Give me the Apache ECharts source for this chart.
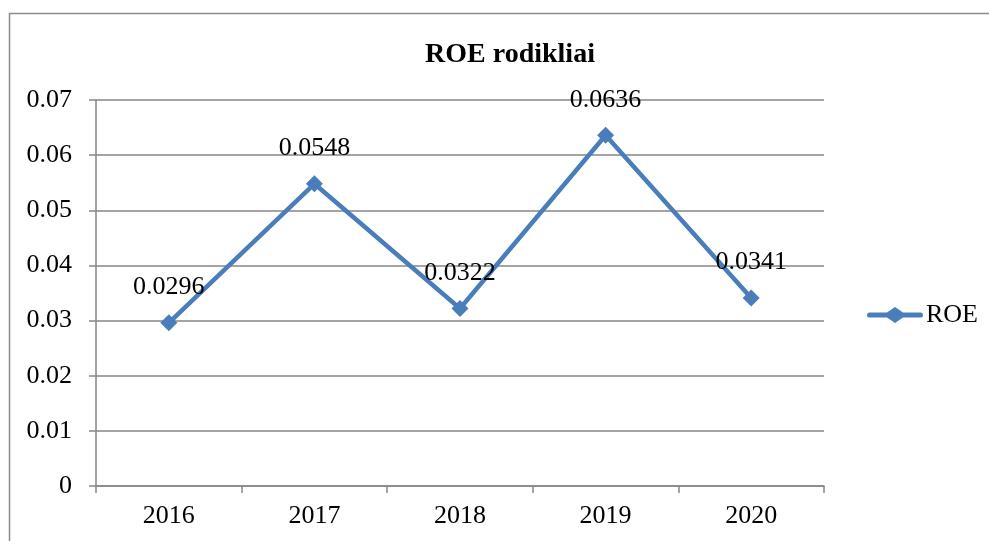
<!DOCTYPE html>
<html>
<head>
<meta charset="utf-8">
<script src="https://cdn.jsdelivr.net/npm/echarts@6/dist/echarts.min.js"></script>
<style>
  html, body { margin: 0; padding: 0; background: #fff; }
  #chart { width: 989px; height: 541px; }
</style>
</head>
<body>
<div id="chart"></div>
<script>
const years = ['2016', '2017', '2018', '2019', '2020']
const roe = [0.0296, 0.0548, 0.0322, 0.0636, 0.0341]
const yTicks = ['0', '0.01', '0.02', '0.03', '0.04', '0.05', '0.06', '0.07']

const serif = '"Liberation Serif", "DejaVu Serif", serif'
const gridColor = '#868686'
const blue = '#4A7EBB'

const chart = echarts.init(document.getElementById('chart'))
chart.setOption({
  animation: false,
  textStyle: { fontFamily: serif },
  graphic: [
    {
      type: 'rect',
      shape: { x: 9.5, y: 13.5, width: 1000, height: 600 },
      style: { fill: 'none', stroke: '#8c8c8c', lineWidth: 1.5 },
      silent: true,
    },
  ],
  title: {
    text: 'ROE rodikliai',
    left: 505,
    top: 36,
    textAlign: 'center',
    textStyle: { fontFamily: serif, fontWeight: 'bold', fontSize: 28, color: '#000' },
  },
  legend: {
    left: 862,
    top: 297,
    itemWidth: 56,
    itemHeight: 16,
    itemGap: 4,
    data: [{
      name: 'ROE',
      icon: 'path://M2,5.5 L20,5.5 L28,0 L36,5.5 L54,5.5 Q56,5.5 56,8 Q56,10.5 54,10.5 L36,10.5 L28,16 L20,10.5 L2,10.5 Q0,10.5 0,8 Q0,5.5 2,5.5 Z',
      itemStyle: { color: blue },
    }],
    textStyle: { fontFamily: serif, fontSize: 26, color: '#000', padding: [0, 0, 0, -2] },
  },
  grid: { left: 96, top: 100, right: 165, bottom: 55 },
  xAxis: {
    type: 'category',
    data: years,
    boundaryGap: true,
    axisLine: { lineStyle: { color: gridColor, width: 1.5 } },
    axisTick: { show: true, length: 7, lineStyle: { color: gridColor, width: 1.5 } },
    axisLabel: { fontFamily: serif, fontSize: 26, color: '#000', margin: 17 },
  },
  yAxis: {
    type: 'value',
    min: 0,
    max: 0.07,
    interval: 0.01,
    axisLine: { show: true, lineStyle: { color: gridColor, width: 1.5 } },
    axisTick: { show: true, length: 7, lineStyle: { color: gridColor, width: 1.5 } },
    splitLine: { lineStyle: { color: gridColor, width: 1.5 } },
    axisLabel: {
      fontFamily: serif,
      fontSize: 26,
      color: '#000',
      margin: 24,
      formatter: (v) => yTicks[Math.round(v * 100)],
    },
  },
  series: [
    {
      name: 'ROE',
      type: 'line',
      data: roe,
      symbol: 'diamond',
      symbolSize: 17,
      color: blue,
      lineStyle: { width: 4.5, color: blue },
      itemStyle: { color: blue },
      label: {
        show: true,
        position: 'top',
        distance: 14,
        fontFamily: serif,
        fontSize: 26,
        color: '#000',
        formatter: (p) => String(p.value),
      },
    },
  ],
})
</script>
</body>
</html>
